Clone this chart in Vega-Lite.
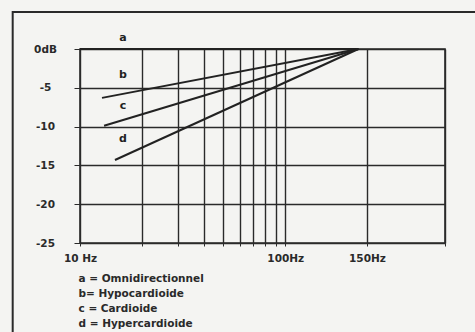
{
  "$schema": "https://vega.github.io/schema/vega-lite/v6.json",
  "autosize": {"type": "none"},
  "padding": {"left": 80, "top": 49, "right": 30, "bottom": 89},
  "width": 365,
  "height": 194,
  "background": "#f4f4f2",
  "config": {
    "font": "DejaVu Sans",
    "view": {"stroke": "#2a2a2a", "strokeWidth": 1.6}
  },
  "datasets": {
    "curves": [
      {"curve": "a", "name": "a = Omnidirectionnel", "f": 10, "db": 0},
      {"curve": "a", "name": "a = Omnidirectionnel", "f": 227, "db": 0},
      {"curve": "b", "name": "b= Hypocardioide", "f": 12.8, "db": -6.3},
      {"curve": "b", "name": "b= Hypocardioide", "f": 227, "db": 0},
      {"curve": "c", "name": "c = Cardioide", "f": 13.1, "db": -9.9},
      {"curve": "c", "name": "c = Cardioide", "f": 227, "db": 0},
      {"curve": "d", "name": "d = Hypercardioide", "f": 14.8, "db": -14.3},
      {"curve": "d", "name": "d = Hypercardioide", "f": 227, "db": 0}
    ],
    "labels": [
      {"curve": "a", "f": 16.2, "db": 1.4},
      {"curve": "b", "f": 16.2, "db": -3.4},
      {"curve": "c", "f": 16.2, "db": -7.3},
      {"curve": "d", "f": 16.2, "db": -11.6}
    ],
    "frame": [
      {"f1": 4.7, "f2": 1000, "db1": 4.77, "db2": -40}
    ]
  },
  "layer": [
    {
      "data": {"name": "frame"},
      "mark": {"type": "rect", "fill": null, "stroke": "#2a2a2a", "strokeWidth": 2},
      "encoding": {
        "x": {"field": "f1", "type": "quantitative", "scale": {"type": "log", "domain": [10, 600]}},
        "x2": {"field": "f2"},
        "y": {"field": "db1", "type": "quantitative", "scale": {"domain": [-25, 0]}},
        "y2": {"field": "db2"}
      }
    },
    {
      "data": {"name": "curves"},
      "mark": {"type": "line", "strokeWidth": 2, "clip": false},
      "encoding": {
        "x": {
          "field": "f", "type": "quantitative",
          "scale": {"type": "log", "domain": [10, 600], "nice": false},
          "axis": {
            "values": [10, 20, 30, 40, 50, 60, 70, 80, 90, 100, 250, 600],
            "tickCount": 30,
            "labelExpr": "datum.value == 10 ? '10 Hz' : datum.value == 100 ? '100Hz' : datum.value == 250 ? '150Hz' : ''",
            "grid": true, "gridColor": "#2a2a2a", "gridWidth": 1.4, "gridOpacity": 1,
            "domain": false, "ticks": true, "tickColor": "#2a2a2a", "tickSize": 3,
            "labelFontSize": 10.5, "labelFontWeight": "bold", "labelColor": "#2a2a2a", "labelPadding": 7,
            "labelFlush": false, "labelOverlap": false, "title": null
          }
        },
        "y": {
          "field": "db", "type": "quantitative",
          "scale": {"domain": [-25, 0], "nice": false},
          "axis": {
            "values": [0, -5, -10, -15, -20, -25],
            "tickCount": 30,
            "labelExpr": "datum.value == 0 ? '0dB' : '-' + abs(datum.value)",
            "grid": true, "gridColor": "#2a2a2a", "gridWidth": 1.4, "gridOpacity": 1,
            "domain": false, "tickColor": "#2a2a2a", "tickSize": 6,
            "labelFontSize": 10.5, "labelFontWeight": "bold", "labelColor": "#2a2a2a",
            "labelAlign": "center", "labelPadding": 29,
            "labelOverlap": false, "labelFlush": false,
            "title": null
          }
        },
        "detail": {"field": "curve"},
        "color": {
          "field": "name", "type": "nominal",
          "scale": {"range": ["#222", "#222", "#222", "#222"]},
          "legend": {
            "orient": "none", "legendX": -12, "legendY": 225,
            "direction": "vertical", "title": null,
            "symbolSize": 0, "symbolStrokeWidth": 0, "symbolOpacity": 0,
            "labelOffset": 0, "labelFontSize": 10.5, "labelFontWeight": "bold", "labelColor": "#2a2a2a",
            "rowPadding": 4, "labelLimit": 300
          }
        }
      }
    },
    {
      "data": {"name": "labels"},
      "mark": {"type": "text", "fontSize": 11, "color": "#222", "fontWeight": "bold"},
      "encoding": {
        "x": {"field": "f", "type": "quantitative"},
        "y": {"field": "db", "type": "quantitative"},
        "text": {"field": "curve"}
      }
    }
  ]
}
